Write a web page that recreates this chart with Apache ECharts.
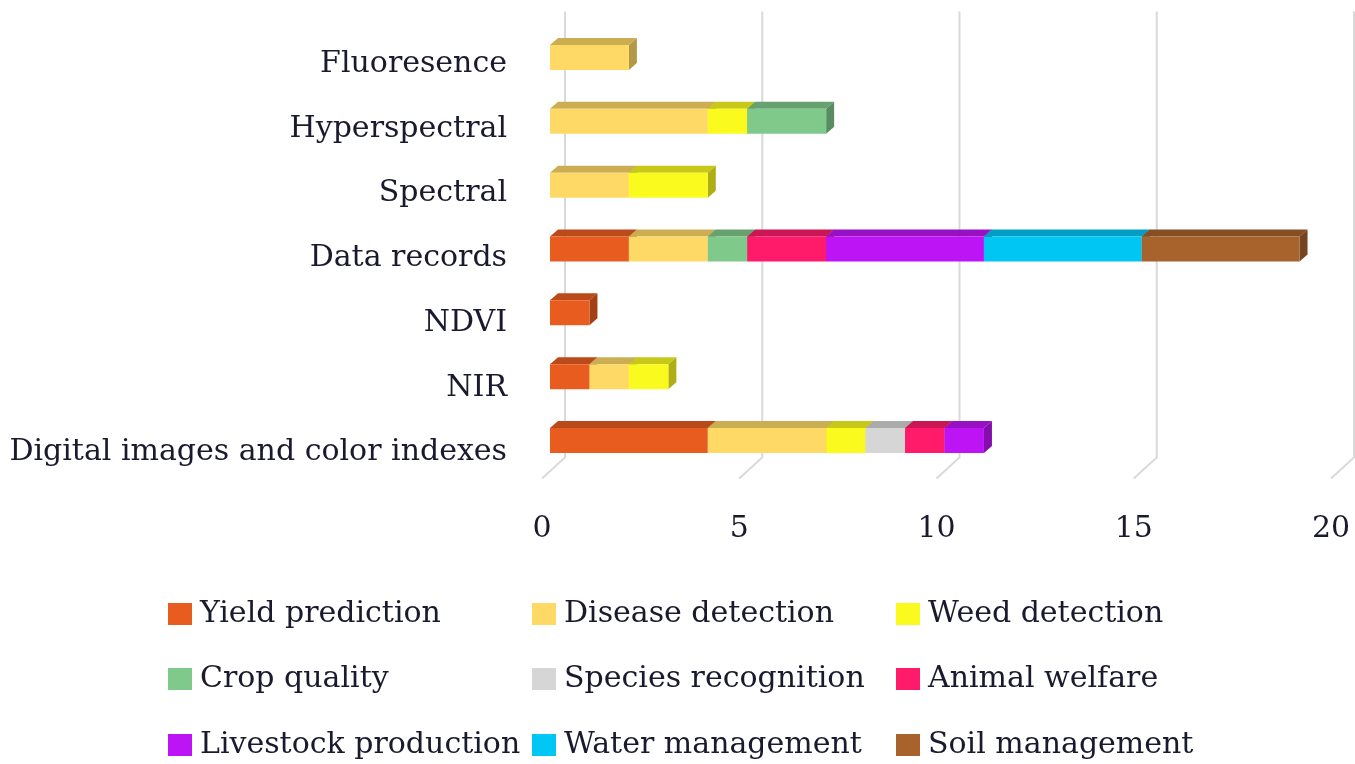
<!DOCTYPE html>
<html>
<head>
<meta charset="utf-8">
<title>Data sources by application</title>
<script src="https://cdn.jsdelivr.net/npm/echarts@6/dist/echarts.min.js"></script>
<style>
  html, body { margin: 0; padding: 0; background: #ffffff; }
  #chart { width: 1355px; height: 764px; }
</style>
</head>
<body>
<div id="chart"></div>
<script>
// Data sources (bottom to top on the category axis)
const categories = [
  'Digital images and color indexes',
  'NIR',
  'NDVI',
  'Data records',
  'Spectral',
  'Hyperspectral',
  'Fluoresence'
];

// Number of studies per application, one value per category above
const yieldPrediction     = [4, 1, 1, 2, 0, 0, 0];
const diseaseDetection    = [3, 1, 0, 2, 2, 4, 2];
const weedDetection       = [1, 1, 0, 0, 2, 1, 0];
const cropQuality         = [0, 0, 0, 1, 0, 2, 0];
const speciesRecognition  = [1, 0, 0, 0, 0, 0, 0];
const animalWelfare       = [1, 0, 0, 2, 0, 0, 0];
const livestockProduction = [1, 0, 0, 4, 0, 0, 0];
const waterManagement     = [0, 0, 0, 4, 0, 0, 0];
const soilManagement      = [0, 0, 0, 4, 0, 0, 0];

const valueTicks = [0, 5, 10, 15, 20];

const applications = [
  { name: 'Yield prediction',     values: yieldPrediction,     color: '#E85C20' },
  { name: 'Disease detection',    values: diseaseDetection,    color: '#FFD966' },
  { name: 'Weed detection',       values: weedDetection,       color: '#FAFA1E' },
  { name: 'Crop quality',         values: cropQuality,         color: '#7FC98B' },
  { name: 'Species recognition',  values: speciesRecognition,  color: '#D6D6D6' },
  { name: 'Animal welfare',       values: animalWelfare,       color: '#FF1A6A' },
  { name: 'Livestock production', values: livestockProduction, color: '#BD14F5' },
  { name: 'Water management',     values: waterManagement,     color: '#00C6F4' },
  { name: 'Soil management',      values: soilManagement,      color: '#A8622C' }
];

// legend grid: three columns, three rows
const legendRows = [
  ['Yield prediction', 'Disease detection', 'Weed detection'],
  ['Crop quality', 'Species recognition', 'Animal welfare'],
  ['Livestock production', 'Water management', 'Soil management']
];
const legendColX = [168, 532, 896];
const legendRowY = [614, 679, 745];

const FONT = 'DejaVu Serif';
const FONT_SIZE = 30;
const TEXT_COLOR = '#1a1a2e';

// darken a hex colour by a factor
function shade(hex, f) {
  const n = parseInt(hex.slice(1), 16);
  const r = Math.round(((n >> 16) & 255) * f);
  const g = Math.round(((n >> 8) & 255) * f);
  const b = Math.round((n & 255) * f);
  return 'rgb(' + r + ',' + g + ',' + b + ')';
}

// 3D look: bar depth offset
const DEPTH_X = 8, DEPTH_Y = 7, BAR_H = 25, FACE_SHIFT = 8;

function makeBarRenderer(color) {
  const topColor = shade(color, 0.8);
  const sideColor = shade(color, 0.7);
  return function (params, api) {
    const ci = api.value(1);
    const start = api.value(2);
    const end = api.value(3);
    if (end - start <= 0) return null;
    const p0 = api.coord([start, ci]);
    const p1 = api.coord([end, ci]);
    const x0 = p0[0] + FACE_SHIFT;
    const x1 = p1[0] + FACE_SHIFT;
    const yT = p0[1] - BAR_H / 2;
    const yB = p0[1] + BAR_H / 2;
    return {
      type: 'group',
      children: [
        {
          type: 'polygon',
          shape: { points: [[x0, yT], [x0 + DEPTH_X, yT - DEPTH_Y], [x1 + DEPTH_X, yT - DEPTH_Y], [x1, yT]] },
          style: { fill: topColor }
        },
        {
          type: 'polygon',
          shape: { points: [[x1, yT], [x1 + DEPTH_X, yT - DEPTH_Y], [x1 + DEPTH_X, yB - DEPTH_Y], [x1, yB]] },
          style: { fill: sideColor }
        },
        {
          type: 'rect',
          shape: { x: x0, y: yT, width: x1 - x0, height: BAR_H },
          style: { fill: color }
        }
      ]
    };
  };
}

// stacked start/end for each segment
const running = categories.map(() => 0);
const barSeries = applications.map(app => {
  const data = app.values.map((v, i) => {
    const s = running[i];
    running[i] += v;
    return [v, i, s, s + v];
  });
  return {
    name: app.name,
    type: 'custom',
    xAxisIndex: 0,
    yAxisIndex: 0,
    renderItem: makeBarRenderer(app.color),
    itemStyle: { color: app.color },
    encode: { x: 3, y: 1 },
    data: data,
    z: 3
  };
});

// back-wall gridlines with the slanted floor segment
const gridSeries = {
  name: 'grid',
  type: 'custom',
  silent: true,
  xAxisIndex: 0,
  yAxisIndex: 0,
  z: 1,
  encode: { x: 0 },
  data: valueTicks.map(v => [v]),
  renderItem: function (params, api) {
    const cs = params.coordSys;
    const x = api.coord([api.value(0), 0])[0];
    const top = cs.y - 14;
    const backBottom = cs.y + cs.height - 15;
    const front = cs.y + cs.height + 6;
    return {
      type: 'polyline',
      shape: { points: [[x + 23, top], [x + 23, backBottom], [x, front]] },
      style: { stroke: '#d9d9d9', lineWidth: 2, fill: null }
    };
  }
};

const legends = [];
legendRows.forEach((row, r) => {
  row.forEach((name, c) => {
    legends.push({
      orient: 'horizontal',
      icon: 'rect',
      itemWidth: 24,
      itemHeight: 22,
      padding: 0,
      selectedMode: false,
      left: legendColX[c],
      top: legendRowY[r] - 15,
      data: [name],
      textStyle: { fontFamily: FONT, fontSize: FONT_SIZE, color: TEXT_COLOR, lineHeight: 30, padding: [0, 0, 0, 3] }
    });
  });
});

const chart = echarts.init(document.getElementById('chart'), null, { renderer: 'canvas' });
chart.setOption({
  animation: false,
  backgroundColor: '#ffffff',
  grid: [
    // plot area for the bars
    { left: 542, right: 24, top: 25.6, bottom: 291.6, containLabel: false },
    // label band sitting on the front edge of the floor
    { left: 542, right: 24, top: 31.6, bottom: 279.1, containLabel: false }
  ],
  xAxis: [
    {
      type: 'value',
      gridIndex: 0,
      min: 0,
      max: 20,
      interval: 5,
      axisLine: { show: false },
      axisTick: { show: false },
      splitLine: { show: false },
      axisLabel: { fontFamily: FONT, fontSize: FONT_SIZE, color: TEXT_COLOR, margin: 42 }
    },
    {
      type: 'value',
      gridIndex: 1,
      min: 0,
      max: 20,
      show: false
    }
  ],
  yAxis: [
    {
      type: 'category',
      gridIndex: 0,
      data: categories,
      axisLine: { show: false },
      axisTick: { show: false },
      splitLine: { show: false },
      axisLabel: { show: false }
    },
    {
      type: 'category',
      gridIndex: 1,
      data: categories,
      axisLine: { show: false },
      axisTick: { show: false },
      splitLine: { show: false },
      axisLabel: { fontFamily: FONT, fontSize: FONT_SIZE, color: TEXT_COLOR, margin: 35 }
    }
  ],
  legend: legends,
  series: [gridSeries].concat(barSeries)
});
</script>
</body>
</html>
